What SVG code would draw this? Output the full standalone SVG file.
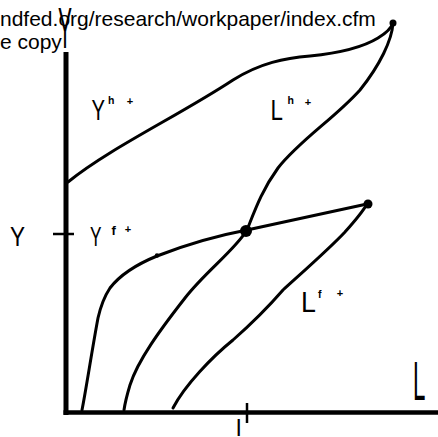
<svg xmlns="http://www.w3.org/2000/svg" width="438" height="437" viewBox="0 0 438 437">
<style>
.hw{font-family:"Liberation Sans",Arial,sans-serif;fill:#000}
.sup{font-family:"Liberation Sans",Arial,sans-serif;fill:#000;font-weight:bold}
.url{font-family:"Liberation Sans",Arial,sans-serif;font-size:21px;fill:#000}
.crv{fill:none;stroke:#000;stroke-width:3;stroke-linecap:round;stroke-linejoin:round}
.axis{fill:none;stroke:#000;stroke-linecap:butt}
.dot{fill:#000}
</style>
<rect width="438" height="437" fill="#fff"/>
<g id="header">
<text class="url" x="0" y="25.5">ndfed.org/research/workpaper/index.cfm</text>
<text class="url" x="0" y="48.5">e copy</text>
</g>
<g id="axes">
<line class="axis" x1="66" y1="52" x2="66" y2="415" stroke-width="5"/>
<line class="axis" x1="63.5" y1="412.5" x2="438" y2="412.5" stroke-width="4.5"/>
<line class="axis" x1="53" y1="234" x2="74" y2="234" stroke-width="2.5"/>
<line class="axis" x1="247" y1="403" x2="247" y2="423" stroke-width="2.5"/>
<text class="hw" x="58" y="48" font-size="57" textLength="14" lengthAdjust="spacingAndGlyphs">Y</text>
<text class="hw" x="413" y="400" font-size="55" textLength="12.4" lengthAdjust="spacingAndGlyphs">L</text>
<text class="hw" x="10" y="246" font-size="27" textLength="15" lengthAdjust="spacingAndGlyphs">Y</text>
<text class="hw" x="235.5" y="436" font-size="23">I</text>
</g>
<g id="connectors">
<path id="Yh" class="crv" d="M68,182 C110,148 180,115 233,80 C260,63 285,58 310,56 C340,53 365,46 378,38 C388,32 392,26 393,23"/>
<path id="Lh" class="crv" d="M393,23 C392,40 380,65 360,90 C335,118 300,140 278,168 C262,190 255,210 247,230 C235,250 205,272 185,298 C160,330 138,360 130,385 C127,395 125,403 124,410"/>
<path id="Yf" class="crv" d="M82,410 C86,390 92,350 98,318 C101,305 104,297 110,288 C120,275 135,265 157,256 C180,247 215,236 247,230 L367,204"/>
<path id="Lf" class="crv" d="M367,204 C362,213 353,223 345,232 C330,248 305,270 283,290 C270,305 250,325 233,340 C212,357 185,385 173,408"/>
</g>
<g id="points">
<circle class="dot" cx="393" cy="23" r="3.5"/>
<circle class="dot" cx="246" cy="231" r="6"/>
<circle class="dot" cx="368" cy="204" r="4.5"/>
<circle class="dot" cx="157" cy="255.5" r="2.2"/>
</g>
<g id="label-Yh">
<text class="hw" x="91.5" y="120" font-size="30" textLength="13.5" lengthAdjust="spacingAndGlyphs">Y</text>
<text class="sup" x="108" y="104" font-size="10.5">h</text>
<text class="sup" x="130" y="105" font-size="11" text-anchor="middle">+</text>
</g>
<g id="label-Lh">
<text class="hw" x="270.4" y="120" font-size="30" textLength="12.4" lengthAdjust="spacingAndGlyphs">L</text>
<text class="sup" x="287.5" y="104" font-size="10.5">h</text>
<text class="sup" x="308" y="105.5" font-size="11" text-anchor="middle">+</text>
</g>
<g id="label-Yf">
<text class="hw" x="90" y="246" font-size="28" textLength="11.5" lengthAdjust="spacingAndGlyphs">Y</text>
<text class="sup" x="111.5" y="235" font-size="13">f</text>
<text class="sup" x="128" y="232.5" font-size="11" text-anchor="middle">+</text>
</g>
<g id="label-Lf">
<text class="hw" x="301" y="312" font-size="29" textLength="14.9" lengthAdjust="spacingAndGlyphs">L</text>
<text class="sup" x="318" y="297.5" font-size="10.5">f</text>
<text class="sup" x="340" y="296.5" font-size="11" text-anchor="middle">+</text>
</g>
</svg>
